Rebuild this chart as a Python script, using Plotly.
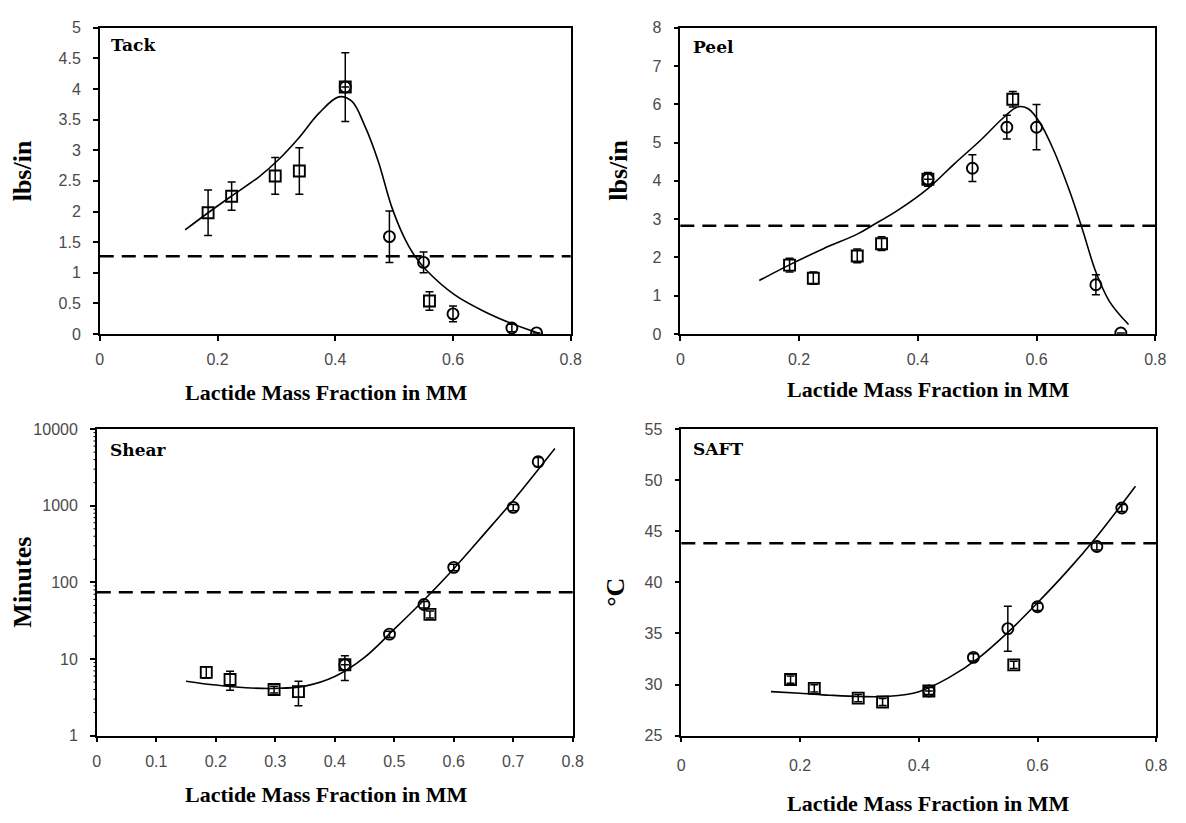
import plotly.graph_objects as go

# ---------------- data ----------------
# Lactide mass fraction of the monomer mix (MM) for each formulation
sq_x = [0.184, 0.224, 0.298, 0.339, 0.417, 0.560]
ci_x = [0.417, 0.492, 0.550, 0.600, 0.700, 0.742]

# Tack (lbs/in)
tack_sq = [1.98, 2.25, 2.58, 2.66, 4.03, 0.54]
tack_sq_err = [0.37, 0.23, 0.30, 0.38, 0.56, 0.15]
tack_ci = [4.03, 1.59, 1.17, 0.33, 0.10, 0.02]
tack_ci_err = [0.0, 0.42, 0.17, 0.13, 0.06, 0.0]
tack_fit_x = [0.145, 0.187, 0.228, 0.271, 0.303, 0.338, 0.372, 0.406, 0.428, 0.450,
              0.473, 0.495, 0.515, 0.534, 0.554, 0.603, 0.653, 0.703, 0.747]
tack_fit_y = [1.70, 2.00, 2.28, 2.57, 2.84, 3.20, 3.60, 3.87, 3.80, 3.40,
              2.82, 2.10, 1.62, 1.29, 1.05, 0.64, 0.37, 0.16, 0.01]
tack_limit = 1.27

# Peel (lbs/in)
peel_sq = [1.80, 1.46, 2.04, 2.36, 4.04, 6.13]
peel_sq_err = [0.18, 0.16, 0.18, 0.18, 0.18, 0.20]
peel_ci = [4.04, 4.33, 5.40, 5.40, 1.29, 0.03]
peel_ci_err = [0.0, 0.35, 0.31, 0.59, 0.26, 0.0]
peel_fit_x = [0.133, 0.183, 0.241, 0.298, 0.324, 0.368, 0.417, 0.462, 0.507, 0.545,
              0.568, 0.586, 0.606, 0.628, 0.656, 0.678, 0.700, 0.723, 0.755]
peel_fit_y = [1.40, 1.80, 2.23, 2.61, 2.84, 3.25, 3.80, 4.45, 5.08, 5.66,
              5.93, 5.88, 5.51, 4.83, 3.72, 2.70, 1.62, 0.85, 0.25]
peel_limit = 2.83

# Shear (minutes, log scale)
shear_sq = [6.7, 5.4, 4.0, 3.75, 8.4, 38.3]
shear_sq_up = [1.2, 1.5, 0.4, 1.39, 2.6, 4.0]
shear_sq_dn = [1.1, 1.49, 0.4, 1.29, 3.14, 4.0]
shear_ci = [8.4, 21.1, 51.4, 157, 952, 3750]
shear_ci_err = [0.0, 2.0, 5.0, 15.0, 90.0, 500.0]
shear_fit_x = [0.150, 0.200, 0.250, 0.300, 0.350, 0.400, 0.450, 0.500,
               0.550, 0.600, 0.650, 0.700, 0.770]
shear_fit_y = [5.14, 4.57, 4.22, 4.14, 4.43, 5.9, 10.5, 24.5,
               59, 151, 417, 1175, 5600]
shear_limit = 74.5
shear_ticks = [1, 10, 100, 1000, 10000]

# SAFT (deg C)
saft_sq = [30.49, 29.63, 28.67, 28.29, 29.37, 31.93]
saft_sq_err = [0.35, 0.35, 0.35, 0.35, 0.35, 0.35]
saft_ci = [29.37, 32.66, 35.47, 37.61, 43.51, 47.28]
saft_ci_err = [0.0, 0.35, 2.2, 0.35, 0.35, 0.35]
saft_fit_x = [0.151, 0.200, 0.250, 0.300, 0.350, 0.400, 0.450, 0.500, 0.550,
              0.600, 0.650, 0.700, 0.765]
saft_fit_y = [29.31, 29.15, 28.96, 28.83, 28.85, 29.30, 30.65, 32.56, 35.10,
              38.00, 41.10, 44.50, 49.40]
saft_limit = 43.83

# ---------------- figure ----------------
W, H = 1186, 823
fig = go.Figure()

# panel boxes in pixels: (left, right, top, bottom)
boxes = {
    "1": (97, 574, 20, 333),
    "2": (685, 1166, 20, 333),
    "3": (94, 576, 430, 743),
    "4": (686, 1167, 430, 743),
}


def xdom(b):
    return [b[0] / W, b[1] / W]


def ydom(b):
    return [1 - b[3] / H, 1 - b[2] / H]


def ax_name(k, a):
    return a if k == "1" else a + k


def add_points(k, xs, ys, err, symbol, err_minus=None):
    ey = dict(type="data", array=err, visible=True, color="black",
              thickness=1.5, width=4)
    if err_minus is not None:
        ey["symmetric"] = False
        ey["arrayminus"] = err_minus
    fig.add_trace(go.Scatter(
        x=xs, y=ys, mode="markers",
        marker=dict(symbol=symbol, size=11, color="black",
                    line=dict(width=1.9, color="black")),
        error_y=ey, xaxis=ax_name(k, "x"), yaxis=ax_name(k, "y"),
        showlegend=False, hoverinfo="x+y"))


def add_fit(k, xs, ys):
    fig.add_trace(go.Scatter(
        x=xs, y=ys, mode="lines",
        line=dict(color="black", width=1.6, shape="spline", smoothing=1.0),
        xaxis=ax_name(k, "x"), yaxis=ax_name(k, "y"),
        showlegend=False, hoverinfo="skip"))


# Tack
add_fit("1", tack_fit_x, tack_fit_y)
add_points("1", sq_x, tack_sq, tack_sq_err, "square-open")
add_points("1", ci_x, tack_ci, tack_ci_err, "circle-open")
# Peel
add_fit("2", peel_fit_x, peel_fit_y)
add_points("2", sq_x, peel_sq, peel_sq_err, "square-open")
add_points("2", ci_x, peel_ci, peel_ci_err, "circle-open")
# Shear
add_fit("3", shear_fit_x, shear_fit_y)
add_points("3", sq_x, shear_sq, shear_sq_up, "square-open", shear_sq_dn)
add_points("3", ci_x, shear_ci, shear_ci_err, "circle-open")
# SAFT
add_fit("4", saft_fit_x, saft_fit_y)
add_points("4", sq_x, saft_sq, saft_sq_err, "square-open")
add_points("4", ci_x, saft_ci, saft_ci_err, "circle-open")

# dashed specification limits across each panel
limits = {"1": tack_limit, "2": peel_limit, "3": shear_limit, "4": saft_limit}
for k, v in limits.items():
    fig.add_shape(type="line", xref=ax_name(k, "x") + " domain", x0=0, x1=1,
                  yref=ax_name(k, "y"), y0=v, y1=v,
                  line=dict(color="black", width=2.5, dash="14px,8px"))

# minor ticks between decades on the shear axis
for d in range(4):
    for m in range(2, 10):
        v = m * 10 ** d
        fig.add_shape(type="line", xref="x3 domain", x0=-0.007, x1=0,
                      yref="y3", y0=v, y1=v,
                      line=dict(color="black", width=1))

tickfont = dict(family="Liberation Sans", size=16, color="#4a4a4a")
axis_common = dict(showline=True, linecolor="black", linewidth=1.5, mirror=True,
                   ticks="outside", ticklen=5, tickwidth=1.5, tickcolor="black",
                   showgrid=False, zeroline=False, tickfont=tickfont)

for k, b in boxes.items():
    xa = dict(axis_common, domain=xdom(b), range=[0, 0.8], tick0=0,
              dtick=0.1 if k == "3" else 0.2, anchor=ax_name(k, "y"),
              ticklabelstandoff=5)
    ya = dict(axis_common, domain=ydom(b), anchor=ax_name(k, "x"),
              ticklabelstandoff=9)
    if k == "1":
        ya.update(range=[0, 5], tick0=0, dtick=0.5)
    elif k == "2":
        ya.update(range=[0, 8], tick0=0, dtick=1)
    elif k == "3":
        ya.update(type="log", range=[0, 4], tickmode="array",
                  tickvals=shear_ticks, ticktext=[str(t) for t in shear_ticks])
    else:
        ya.update(range=[25, 55], tick0=25, dtick=5)
        xa.update(ticklabelstandoff=9)
    fig.update_layout(**{ax_name(k, "xaxis"): xa, ax_name(k, "yaxis"): ya})

serif_bold = dict(family="Liberation Serif", color="black", weight="bold")
label_font = dict(family="DejaVu Serif", size=17, color="black", weight="bold")


def px_note(text, x, y, font, xanchor="center", yanchor="middle", angle=0):
    fig.add_annotation(text=text, x=x / W, y=1 - y / H, xref="paper", yref="paper",
                       showarrow=False, font=font, xanchor=xanchor,
                       yanchor=yanchor, textangle=angle)


# panel names
px_note("Tack", 106, 38, label_font, xanchor="left")
px_note("Peel", 696, 40, label_font, xanchor="left")
px_note("Shear", 105, 451, label_font, xanchor="left")
px_note("SAFT", 696, 450, label_font, xanchor="left")

# axis titles
xt = dict(serif_bold, size=22)
yt = dict(serif_bold, size=26)
px_note("Lactide Mass Fraction in MM", 327, 393, xt)
px_note("Lactide Mass Fraction in MM", 936, 390, xt)
px_note("Lactide Mass Fraction in MM", 327, 803, xt)
px_note("Lactide Mass Fraction in MM", 936, 812, xt)
px_note("lbs/in", 19, 166, yt, angle=-90)
px_note("lbs/in", 622, 166, yt, angle=-90)
px_note("Minutes", 19, 586, yt, angle=-90)
px_note("°C", 620, 597, yt, angle=-90)

fig.update_layout(width=W, height=H, margin=dict(l=0, r=0, t=0, b=0),
                  paper_bgcolor="white", plot_bgcolor="white")

fig.write_html("out.html")
